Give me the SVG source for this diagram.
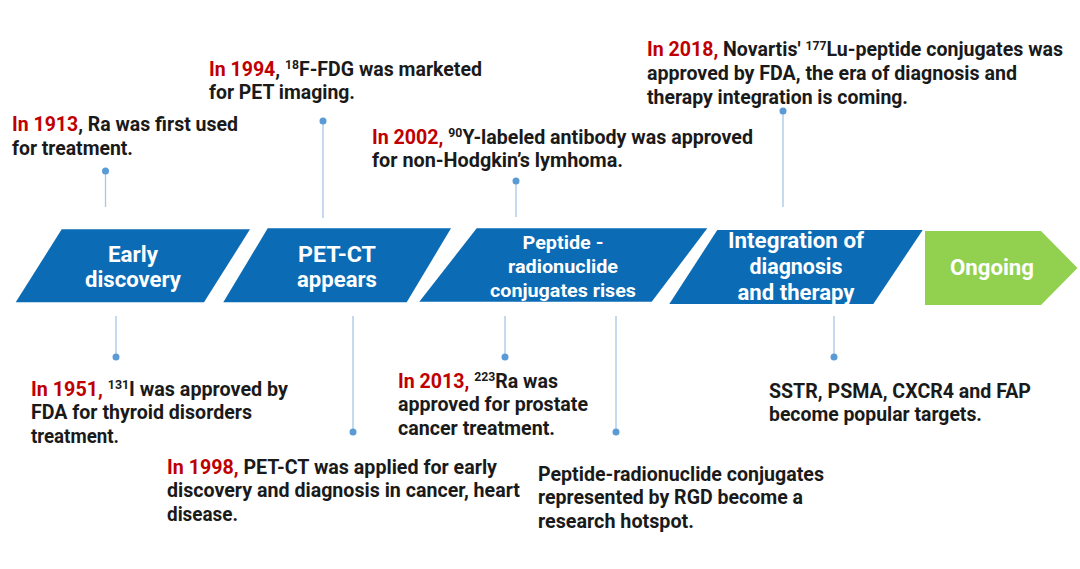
<svg xmlns="http://www.w3.org/2000/svg" width="1080" height="569" viewBox="0 0 1080 569">
<style>
  .t { font-family: Roboto, "Liberation Sans", sans-serif; font-weight: bold; font-size: 20px; fill: #1a1a1a; }
  .c { font-size: 20px; }
  .yr { fill: #c00000; }
  .sup { font-size: 12.5px; }
  .st { font-family: Roboto, "Liberation Sans", sans-serif; font-weight: bold; font-size: 22px; fill: #ffffff; text-anchor: middle; }
  .st2 { font-size: 19px; }
  .blue { fill: #0b6bb5; }
  .green { fill: #92d050; }
  .ln { stroke: #a8c6e6; stroke-width: 1.3; fill: none; }
  .dot { fill: #5b9bd5; }
</style>
<rect width="1080" height="569" fill="#ffffff"/>

<g id="connectors">
  <line class="ln" x1="105.5" y1="171" x2="105.5" y2="207"/>
  <line class="ln" x1="323" y1="121" x2="323" y2="218"/>
  <line class="ln" x1="516" y1="181" x2="516" y2="217"/>
  <line class="ln" x1="783" y1="111" x2="783" y2="207"/>
  <line class="ln" x1="116" y1="316" x2="116" y2="357"/>
  <line class="ln" x1="353" y1="316" x2="353" y2="432"/>
  <line class="ln" x1="505" y1="316" x2="505" y2="357"/>
  <line class="ln" x1="616" y1="316" x2="616" y2="432"/>
  <line class="ln" x1="834" y1="316" x2="834" y2="357"/>
  <circle class="dot" cx="105.5" cy="171" r="3.5"/>
  <circle class="dot" cx="323" cy="121" r="3.5"/>
  <circle class="dot" cx="516" cy="181" r="3.5"/>
  <circle class="dot" cx="783" cy="111" r="3.5"/>
  <circle class="dot" cx="116" cy="357" r="3.5"/>
  <circle class="dot" cx="353" cy="432" r="3.5"/>
  <circle class="dot" cx="505" cy="357" r="3.5"/>
  <circle class="dot" cx="616" cy="432" r="3.5"/>
  <circle class="dot" cx="834" cy="357" r="3.5"/>
</g>

<g id="stage-early">
  <polygon class="blue" points="61.7,229.3 250,229.3 204,302.3 15.7,302.3"/>
  <text class="st" x="133" y="262" textLength="50" lengthAdjust="spacingAndGlyphs">Early</text>
  <text class="st" x="133" y="287" textLength="96" lengthAdjust="spacingAndGlyphs">discovery</text>
</g>
<g id="stage-petct">
  <polygon class="blue" points="267.7,228.3 451,228.3 406.7,302.3 223.3,302.3"/>
  <text class="st" x="337" y="262" textLength="78" lengthAdjust="spacingAndGlyphs">PET-CT</text>
  <text class="st" x="337" y="287" textLength="80" lengthAdjust="spacingAndGlyphs">appears</text>
</g>
<g id="stage-peptide">
  <polygon class="blue" points="476.7,228.3 707.3,228.3 651.7,301.7 419.3,301.7"/>
  <text class="st st2" x="563" y="249" textLength="81" lengthAdjust="spacingAndGlyphs">Peptide -</text>
  <text class="st st2" x="563" y="273" textLength="110" lengthAdjust="spacingAndGlyphs">radionuclide</text>
  <text class="st st2" x="563" y="297" textLength="146" lengthAdjust="spacingAndGlyphs">conjugates rises</text>
</g>
<g id="stage-integration">
  <polygon class="blue" points="717.3,230 922.7,230 873.3,304 669.3,304"/>
  <text class="st" x="796" y="248" textLength="136" lengthAdjust="spacingAndGlyphs">Integration of</text>
  <text class="st" x="796" y="274" textLength="93" lengthAdjust="spacingAndGlyphs">diagnosis</text>
  <text class="st" x="796" y="300" textLength="117" lengthAdjust="spacingAndGlyphs">and therapy</text>
</g>
<g id="stage-ongoing">
  <polygon class="green" points="925,231 1041,231 1077.5,268 1041,305 925,305"/>
  <text class="st" x="992" y="275" textLength="84" lengthAdjust="spacingAndGlyphs">Ongoing</text>
</g>

<g id="event-1913">
  <text class="t" x="12" y="131" textLength="226" lengthAdjust="spacingAndGlyphs"><tspan class="yr">In 1913</tspan>, Ra was first used</text>
  <text class="t" x="12" y="155" textLength="121" lengthAdjust="spacingAndGlyphs">for treatment.</text>
</g>
<g id="event-1994">
  <text class="t" x="209" y="76" textLength="273" lengthAdjust="spacingAndGlyphs"><tspan class="yr">In 1994</tspan>, <tspan class="sup" dy="-7">18</tspan><tspan dy="7">F-FDG was marketed</tspan></text>
  <text class="t" x="209" y="99" textLength="146" lengthAdjust="spacingAndGlyphs">for PET imaging.</text>
</g>
<g id="event-2002">
  <text class="t c" x="372" y="144" textLength="381" lengthAdjust="spacingAndGlyphs"><tspan class="yr">In 2002,</tspan> <tspan class="sup" dy="-7">90</tspan><tspan dy="7">Y-labeled antibody was approved</tspan></text>
  <text class="t c" x="372" y="167" textLength="251" lengthAdjust="spacingAndGlyphs">for non-Hodgkin’s lymhoma.</text>
</g>
<g id="event-2018">
  <text class="t c" x="647" y="56" textLength="416" lengthAdjust="spacingAndGlyphs"><tspan class="yr">In 2018,</tspan> Novartis' <tspan class="sup" dy="-6">177</tspan><tspan dy="6">Lu-peptide conjugates was</tspan></text>
  <text class="t c" x="647" y="80" textLength="370" lengthAdjust="spacingAndGlyphs">approved by FDA, the era of diagnosis and</text>
  <text class="t c" x="647" y="104" textLength="261" lengthAdjust="spacingAndGlyphs">therapy integration is coming.</text>
</g>
<g id="event-1951">
  <text class="t" x="31" y="396" textLength="257" lengthAdjust="spacingAndGlyphs"><tspan class="yr">In 1951,</tspan> <tspan class="sup" dy="-7">131</tspan><tspan dy="7">I was approved by</tspan></text>
  <text class="t" x="31" y="419" textLength="221" lengthAdjust="spacingAndGlyphs">FDA for thyroid disorders</text>
  <text class="t" x="31" y="443" textLength="88" lengthAdjust="spacingAndGlyphs">treatment.</text>
</g>
<g id="event-1998">
  <text class="t" x="167" y="474" textLength="330" lengthAdjust="spacingAndGlyphs"><tspan class="yr">In 1998,</tspan> PET-CT was applied for early</text>
  <text class="t" x="167" y="497" textLength="353" lengthAdjust="spacingAndGlyphs">discovery and diagnosis in cancer, heart</text>
  <text class="t" x="167" y="521" textLength="71" lengthAdjust="spacingAndGlyphs">disease.</text>
</g>
<g id="event-2013">
  <text class="t c" x="398" y="388" textLength="160" lengthAdjust="spacingAndGlyphs"><tspan class="yr">In 2013,</tspan> <tspan class="sup" dy="-7">223</tspan><tspan dy="7">Ra was</tspan></text>
  <text class="t c" x="398" y="411" textLength="190" lengthAdjust="spacingAndGlyphs">approved for prostate</text>
  <text class="t c" x="398" y="435" textLength="157" lengthAdjust="spacingAndGlyphs">cancer treatment.</text>
</g>
<g id="event-rgd">
  <text class="t c" x="538" y="481" textLength="286" lengthAdjust="spacingAndGlyphs">Peptide-radionuclide conjugates</text>
  <text class="t c" x="538" y="504" textLength="265" lengthAdjust="spacingAndGlyphs">represented by RGD become a</text>
  <text class="t c" x="538" y="528" textLength="156" lengthAdjust="spacingAndGlyphs">research hotspot.</text>
</g>
<g id="event-targets">
  <text class="t c" x="769" y="398" textLength="262" lengthAdjust="spacingAndGlyphs">SSTR, PSMA, CXCR4 and FAP</text>
  <text class="t c" x="769" y="421" textLength="213" lengthAdjust="spacingAndGlyphs">become popular targets.</text>
</g>
</svg>
